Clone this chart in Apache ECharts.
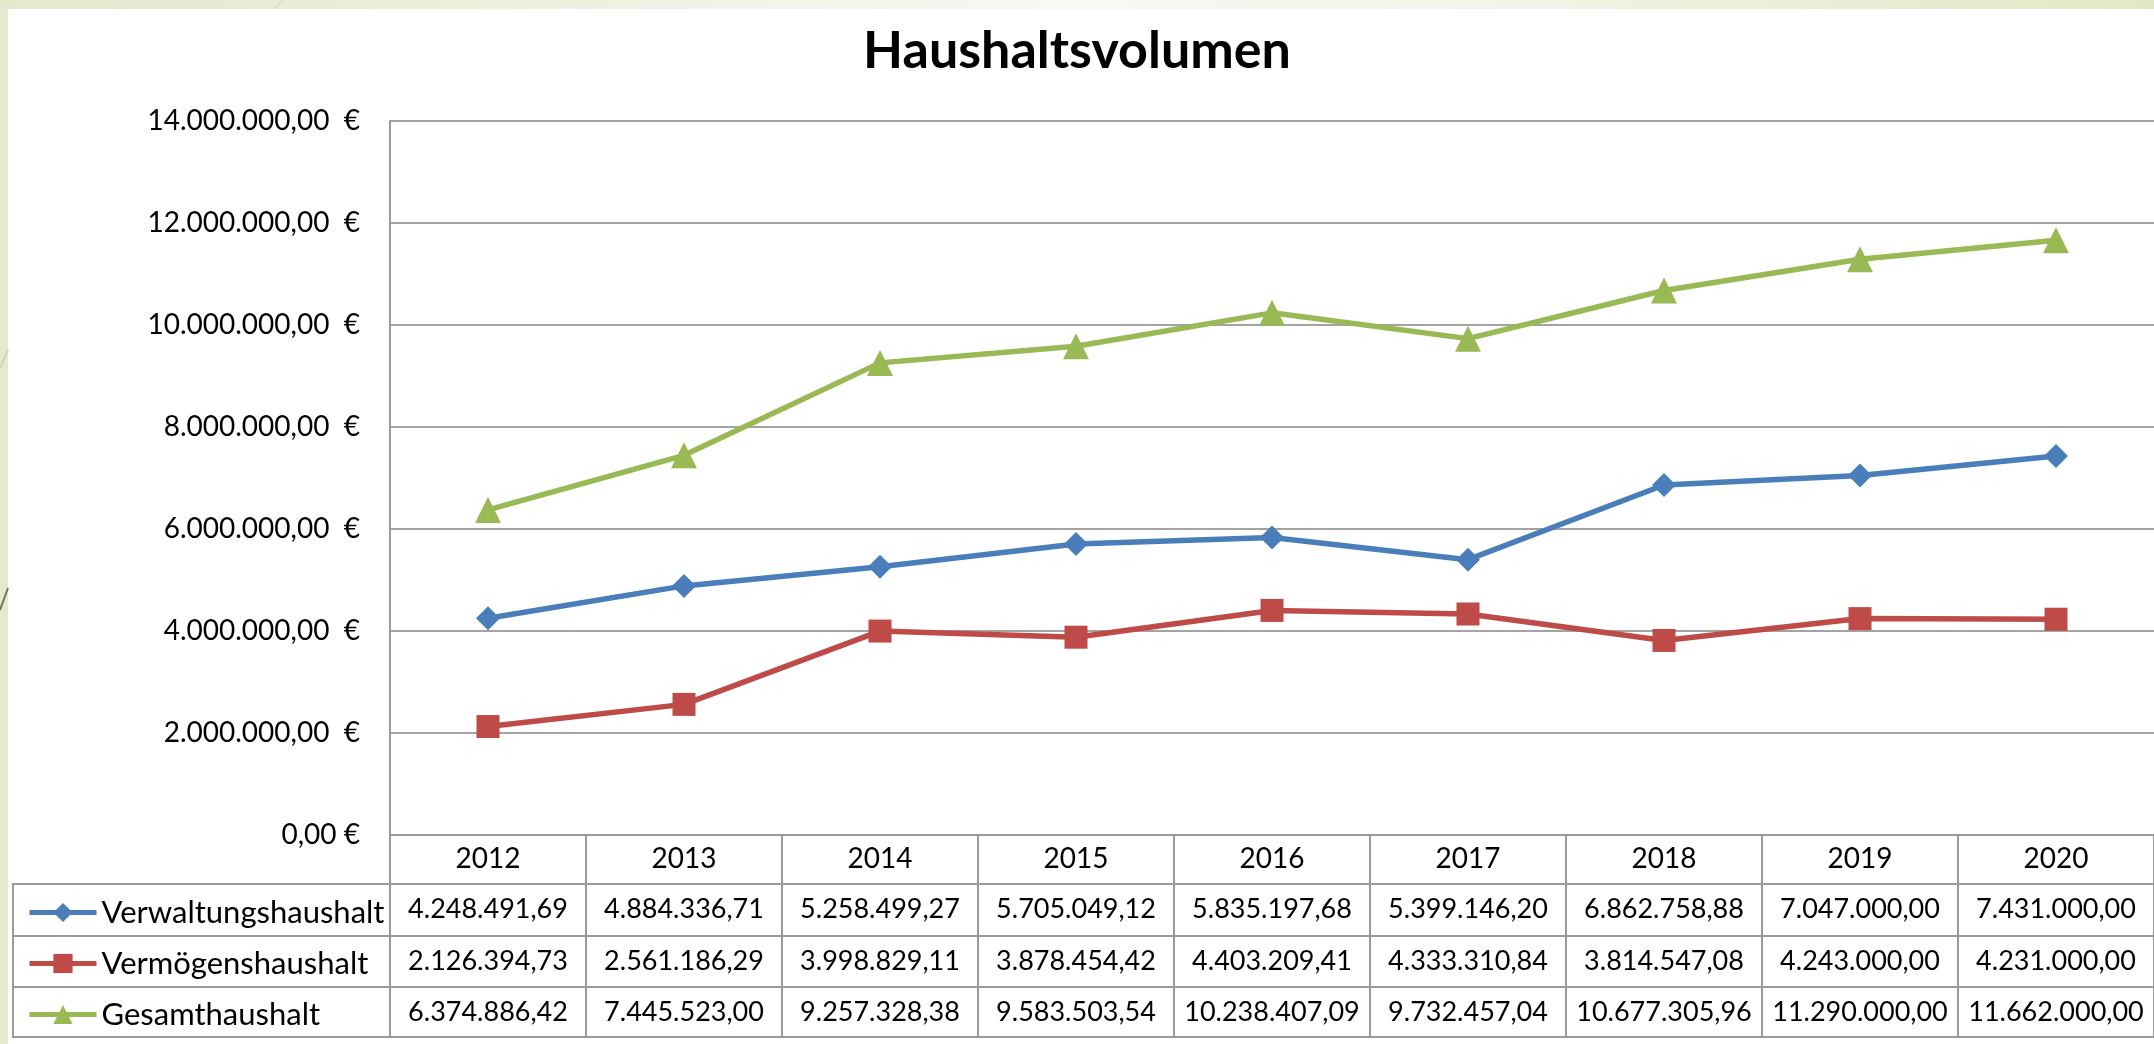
<!DOCTYPE html>
<html>
<head>
<meta charset="utf-8">
<title>Haushaltsvolumen</title>
<script src="https://cdn.jsdelivr.net/npm/echarts@6/dist/echarts.min.js"></script>
<style>
	html, body { margin: 0; padding: 0; width: 2154px; height: 1044px; overflow: hidden; background: #e4e9cf; }
	#topband { position: absolute; left: 0; top: 0; width: 2154px; height: 9px;
		background: linear-gradient(to right, #e3e9cc 0%, #eaefd9 20%, #f8f9f3 50%, #f1f5e6 70%, #e0e8c4 100%); }
	#sheet { position: absolute; left: 8px; top: 9px; right: 0; bottom: 0; background: #fff; }
	#deco { position: absolute; left: 0; top: 0; }
	#myChart { position: absolute; left: 0; top: 0; width: 2154px; height: 1044px; }
</style>
</head>
<body>
<div id="topband"></div>
<div id="sheet"></div>
<svg id="deco" width="300" height="620">
	<line x1="275" y1="9" x2="283" y2="0" stroke="#c9c9b5" stroke-width="1"/>
	<line x1="0" y1="368" x2="8" y2="350" stroke="#d2d4c2" stroke-width="2"/>
	<line x1="0" y1="610" x2="8" y2="588" stroke="#7a7355" stroke-width="2"/>
</svg>
<div id="myChart"></div>
<script>
	// Jahre / Kategorien
	var years = ['2012', '2013', '2014', '2015', '2016', '2017', '2018', '2019', '2020'];
	// Werte aus der Datentabelle (EUR)
	var verwaltung = [4248491.69, 4884336.71, 5258499.27, 5705049.12, 5835197.68, 5399146.20, 6862758.88, 7047000.00, 7431000.00];
	var vermoegen = [2126394.73, 2561186.29, 3998829.11, 3878454.42, 4403209.41, 4333310.84, 3814547.08, 4243000.00, 4231000.00];
	var gesamt = [6374886.42, 7445523.00, 9257328.38, 9583503.54, 10238407.09, 9732457.04, 10677305.96, 11290000.00, 11662000.00];
	var seriesNames = ['Verwaltungshaushalt', 'Vermögenshaushalt', 'Gesamthaushalt'];
	var yMin = 0, yMax = 14000000, yStep = 2000000;

	var FONT = 'Lato';
	var borderColor = '#9a9a9a';
	var gridLeft = 390, gridTop = 121, gridBottom = 209;
	var tableLeft = 13;
	// Zeilen der Tabelle unter dem Diagramm (Abstand zur Nulllinie)
	var rowOffsets = [49, 101, 152, 202];

	function fmt(v) {
		var parts = v.toFixed(2).split('.');
		return parts[0].replace(/\B(?=(\d{3})+(?!\d))/g, '.') + ',' + parts[1];
	}

	function rowAxis(values, offset, len) {
		return {
			type: 'category',
			gridIndex: 0,
			position: 'bottom',
			offset: offset,
			boundaryGap: true,
			data: values ? values.map(fmt) : years,
			axisLine: { show: true, lineStyle: { color: borderColor, width: 2 } },
			axisTick: { show: len > 0, length: len, interval: 0, alignWithLabel: false, lineStyle: { color: borderColor, width: 2 } },
			axisLabel: { show: !!values, interval: 0, hideOverlap: false, margin: 12, fontFamily: FONT, fontSize: 27, color: '#000' },
			splitLine: { show: false }
		};
	}

	var chartH = 1044;
	var zeroY = chartH - gridBottom;

	var option = {
		animation: false,
		backgroundColor: 'transparent',
		title: {
			text: 'Haushaltsvolumen',
			left: 'center',
			top: 20,
			textStyle: { fontFamily: FONT, fontWeight: 'bold', fontSize: 52, color: '#000' }
		},
		legend: {
			orient: 'vertical',
			left: 22,
			top: zeroY + rowOffsets[0] + 8,
			itemWidth: 67,
			itemHeight: 24,
			itemGap: 20,
			itemTextGap: 6,
			data: seriesNames,
			lineStyle: { width: 5 },
			textStyle: { fontFamily: FONT, fontSize: 31, lineHeight: 31, color: '#000' }
		},
		grid: {
			left: gridLeft, right: 0, top: gridTop, bottom: gridBottom,
			containLabel: false,
			outerBoundsMode: 'none'
		},
		xAxis: [
			{
				type: 'category',
				position: 'bottom',
				boundaryGap: true,
				data: years,
				axisLine: { show: true, lineStyle: { color: borderColor, width: 2 } },
				axisTick: { show: true, length: rowOffsets[0], interval: 0, lineStyle: { color: borderColor, width: 2 } },
				axisLabel: { interval: 0, margin: 10, fontFamily: FONT, fontSize: 28, color: '#000' },
				splitLine: { show: false }
			},
			rowAxis(verwaltung, rowOffsets[0], rowOffsets[1] - rowOffsets[0]),
			rowAxis(vermoegen, rowOffsets[1], rowOffsets[2] - rowOffsets[1]),
			rowAxis(gesamt, rowOffsets[2], rowOffsets[3] - rowOffsets[2]),
			rowAxis(null, rowOffsets[3], 0)
		],
		yAxis: {
			type: 'value',
			min: yMin,
			max: yMax,
			interval: yStep,
			axisLine: { show: true, lineStyle: { color: borderColor, width: 2 } },
			axisTick: { show: false },
			splitLine: { show: true, lineStyle: { color: '#a3a3a3', width: 2 } },
			axisLabel: {
				margin: 30,
				fontFamily: FONT,
				fontSize: 28,
				color: '#000',
				formatter: function (v) { return v === 0 ? '0,00 €' : fmt(v) + '  €'; }
			}
		},
		// Rahmen der Beschriftungsspalte links in der Tabelle
		graphic: [
			{ type: 'rect', shape: { x: tableLeft, y: zeroY + rowOffsets[0], width: gridLeft - tableLeft, height: rowOffsets[3] - rowOffsets[0] },
				style: { fill: 'none', stroke: borderColor, lineWidth: 2 } },
			{ type: 'line', shape: { x1: tableLeft, y1: zeroY + rowOffsets[1], x2: gridLeft, y2: zeroY + rowOffsets[1] },
				style: { stroke: borderColor, lineWidth: 2 } },
			{ type: 'line', shape: { x1: tableLeft, y1: zeroY + rowOffsets[2], x2: gridLeft, y2: zeroY + rowOffsets[2] },
				style: { stroke: borderColor, lineWidth: 2 } }
		],
		series: [
			{
				name: seriesNames[0], type: 'line', data: verwaltung,
				symbol: 'diamond', symbolSize: 24,
				lineStyle: { color: '#4a7ebb', width: 5.5 },
				itemStyle: { color: '#4a7ebb' }
			},
			{
				name: seriesNames[1], type: 'line', data: vermoegen,
				symbol: 'rect', symbolSize: 23,
				lineStyle: { color: '#be4b48', width: 5.5 },
				itemStyle: { color: '#be4b48' }
			},
			{
				name: seriesNames[2], type: 'line', data: gesamt,
				symbol: 'triangle', symbolSize: 26,
				lineStyle: { color: '#98b954', width: 5.5 },
				itemStyle: { color: '#98b954' }
			}
		]
	};

	var myChart = echarts.init(document.getElementById('myChart'));
	myChart.setOption(option);
</script>
</body>
</html>
